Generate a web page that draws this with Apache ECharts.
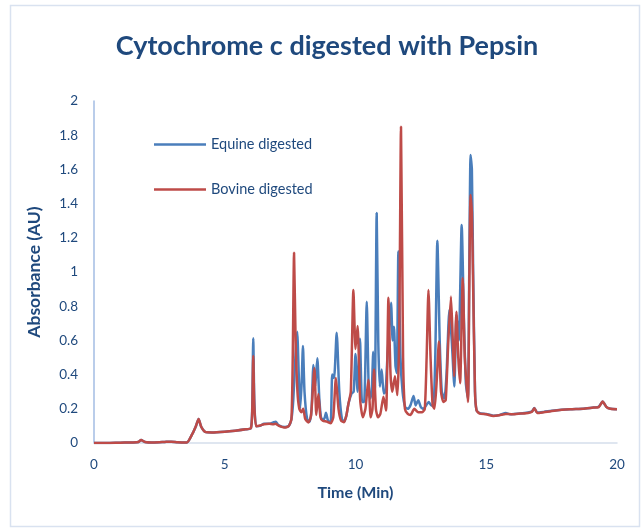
<!DOCTYPE html>
<html>
<head>
<meta charset="utf-8">
<script src="https://cdn.jsdelivr.net/npm/echarts@6.0.0/dist/echarts.min.js"></script>
<style>
    html, body { margin: 0; padding: 0; background: #ffffff; }
    #chart { width: 644px; height: 531px; }
</style>
</head>
<body>
<div id="chart"></div>
<script>
// [time (min), absorbance (AU)]
const equineDigested = [
    [0, 0], [0.5, 0], [1.0, 0.002], [1.5, 0.003], [1.7, 0.006], [1.8, 0.017], [1.95, 0.006],
    [2.3, 0.003], [2.7, 0.006], [2.95, 0.008], [3.2, 0.004], [3.55, 0.003], [3.75, 0.05],
    [3.9, 0.1], [4.0, 0.14], [4.1, 0.095], [4.25, 0.065], [4.5, 0.062], [5.0, 0.066],
    [5.4, 0.072], [5.8, 0.08], [6.0, 0.087], [6.05, 0.2], [6.09, 0.612], [6.13, 0.25],
    [6.2, 0.098], [6.35, 0.1], [6.5, 0.112], [6.7, 0.112], [6.85, 0.12], [6.95, 0.125],
    [7.05, 0.105], [7.3, 0.093], [7.45, 0.1], [7.55, 0.14], [7.62, 0.25], [7.7, 0.5],
    [7.77, 0.651], [7.83, 0.4], [7.88, 0.2], [7.94, 0.35], [7.99, 0.567], [8.05, 0.3],
    [8.15, 0.14], [8.25, 0.125], [8.32, 0.2], [8.39, 0.456], [8.46, 0.33], [8.54, 0.495],
    [8.62, 0.25], [8.7, 0.14], [8.8, 0.14], [8.87, 0.177], [8.95, 0.13], [9.05, 0.12],
    [9.11, 0.4], [9.18, 0.38], [9.28, 0.645], [9.38, 0.3], [9.48, 0.14], [9.56, 0.125],
    [9.65, 0.16], [9.73, 0.23], [9.85, 0.29], [9.93, 0.3], [10.0, 0.52], [10.08, 0.3],
    [10.17, 0.61], [10.25, 0.24], [10.33, 0.24], [10.43, 0.826], [10.5, 0.35], [10.56, 0.26],
    [10.62, 0.3], [10.68, 0.534], [10.74, 0.3], [10.81, 1.345], [10.87, 0.6], [10.93, 0.33],
    [11.0, 0.43], [11.08, 0.29], [11.15, 0.3], [11.22, 0.5], [11.3, 0.7], [11.36, 0.82],
    [11.42, 0.6], [11.47, 0.68], [11.53, 0.45], [11.58, 0.41], [11.64, 1.12], [11.72, 0.5],
    [11.8, 0.3], [11.9, 0.21], [12.0, 0.2], [12.1, 0.22], [12.22, 0.275], [12.3, 0.22],
    [12.4, 0.25], [12.5, 0.21], [12.6, 0.2], [12.7, 0.22], [12.8, 0.24], [12.9, 0.22],
    [12.98, 0.22], [13.05, 0.5], [13.13, 1.183], [13.22, 0.6], [13.3, 0.3], [13.4, 0.26],
    [13.48, 0.4], [13.59, 0.778], [13.68, 0.6], [13.78, 0.33], [13.86, 0.75], [13.95, 0.6],
    [14.06, 1.275], [14.15, 0.7], [14.22, 0.35], [14.3, 0.26], [14.35, 1.0], [14.4, 1.684],
    [14.45, 1.6], [14.5, 1.0], [14.57, 0.3], [14.63, 0.19], [14.75, 0.175], [15.0, 0.17],
    [15.27, 0.16], [15.5, 0.163], [15.75, 0.175], [15.9, 0.168], [16.3, 0.172], [16.6, 0.178],
    [16.75, 0.185], [16.84, 0.205], [16.95, 0.178], [17.2, 0.182], [17.6, 0.19], [18.2, 0.197],
    [18.7, 0.2], [19.1, 0.207], [19.3, 0.212], [19.45, 0.242], [19.6, 0.21], [19.75, 0.2],
    [20.0, 0.198]
];

const bovineDigested = [
    [0, 0], [0.5, 0], [1.0, 0.002], [1.5, 0.003], [1.7, 0.006], [1.8, 0.018], [1.95, 0.006],
    [2.3, 0.003], [2.7, 0.006], [2.95, 0.008], [3.2, 0.004], [3.55, 0.003], [3.75, 0.05],
    [3.9, 0.1], [4.0, 0.14], [4.1, 0.095], [4.25, 0.065], [4.5, 0.062], [5.0, 0.066],
    [5.4, 0.072], [5.8, 0.08], [6.0, 0.087], [6.05, 0.18], [6.09, 0.509], [6.13, 0.22],
    [6.2, 0.098], [6.35, 0.102], [6.5, 0.11], [6.7, 0.113], [6.85, 0.11], [6.95, 0.112],
    [7.05, 0.102], [7.3, 0.09], [7.45, 0.1], [7.55, 0.14], [7.6, 0.5], [7.65, 1.113],
    [7.71, 0.6], [7.78, 0.3], [7.85, 0.2], [7.93, 0.18], [8.0, 0.2], [8.08, 0.14],
    [8.2, 0.12], [8.3, 0.16], [8.43, 0.437], [8.5, 0.164], [8.58, 0.286], [8.66, 0.15],
    [8.75, 0.13], [8.9, 0.125], [9.05, 0.115], [9.15, 0.15], [9.25, 0.38], [9.35, 0.2],
    [9.45, 0.13], [9.56, 0.122], [9.65, 0.16], [9.73, 0.23], [9.82, 0.3], [9.92, 0.895],
    [10.0, 0.55], [10.08, 0.684], [10.18, 0.25], [10.28, 0.15], [10.38, 0.2], [10.49, 0.37],
    [10.58, 0.15], [10.65, 0.2], [10.71, 0.43], [10.78, 0.2], [10.86, 0.15], [10.95, 0.17],
    [11.07, 0.27], [11.17, 0.19], [11.26, 0.85], [11.34, 0.4], [11.41, 0.3], [11.51, 0.39],
    [11.6, 0.28], [11.67, 0.6], [11.74, 1.85], [11.82, 0.5], [11.89, 0.2], [12.0, 0.17],
    [12.1, 0.164], [12.25, 0.2], [12.4, 0.18], [12.55, 0.18], [12.65, 0.2], [12.72, 0.5],
    [12.79, 0.895], [12.87, 0.5], [12.95, 0.22], [13.02, 0.2], [13.1, 0.35], [13.19, 0.593],
    [13.27, 0.3], [13.36, 0.24], [13.45, 0.25], [13.55, 0.6], [13.65, 0.856], [13.72, 0.6],
    [13.77, 0.39], [13.86, 0.768], [13.93, 0.5], [14.0, 0.35], [14.1, 0.963], [14.18, 0.5],
    [14.3, 0.24], [14.35, 0.9], [14.4, 1.45], [14.45, 1.35], [14.5, 0.9], [14.57, 0.3],
    [14.63, 0.19], [14.75, 0.172], [15.0, 0.168], [15.27, 0.158], [15.5, 0.162], [15.75, 0.17],
    [16.0, 0.168], [16.3, 0.172], [16.6, 0.176], [16.75, 0.183], [16.84, 0.203], [16.95, 0.175],
    [17.2, 0.18], [17.6, 0.189], [18.2, 0.197], [18.7, 0.2], [19.1, 0.207], [19.3, 0.21],
    [19.45, 0.242], [19.6, 0.21], [19.75, 0.2], [20.0, 0.197]
];

const seriesNames = ["Equine digested", "Bovine digested"];
const seriesColors = ["#4A7EBB", "#BE4B48"];

const textColor = "#1F497D";
const fontFamily = "Lato, 'Open Sans', sans-serif";

let chart = echarts.init(document.getElementById("chart"), null, { renderer: "canvas" });

let legendFor = (name, top) => {
    return {
        data: [name],
        left: 149,
        top: top,
        icon: "rect",
        itemWidth: 52,
        itemHeight: 2.5,
        itemGap: 6,
        textStyle: {
            color: textColor,
            fontSize: 14.5,
            fontFamily: fontFamily,
        },
    };
};

chart.setOption({
    animation: false,
    backgroundColor: "#ffffff",
    graphic: [
        {
            type: "rect",
            shape: { x: 10.5, y: 5.5, width: 629, height: 521 },
            style: { fill: "none", stroke: "#D9E2F0", lineWidth: 1.5 },
            silent: true,
        },
    ],
    title: {
        text: "Cytochrome c digested with Pepsin",
        left: 322,
        textAlign: "center",
        top: 28,
        textStyle: {
            color: textColor,
            fontSize: 27,
            fontWeight: "bold",
            fontFamily: fontFamily,
        },
    },
    legend: [
        legendFor(seriesNames[0], 132),
        legendFor(seriesNames[1], 177),
    ],
    grid: {
        left: 94,
        right: 27,
        top: 101,
        bottom: 88,
    },
    xAxis: {
        type: "value",
        min: 0,
        max: 20,
        interval: 5,
        name: "Time (Min)",
        nameLocation: "middle",
        nameGap: 42,
        nameTextStyle: {
            color: textColor,
            fontSize: 16,
            fontWeight: "bold",
            fontFamily: fontFamily,
        },
        axisLine: { lineStyle: { color: "#D5DEEC", width: 1.5 } },
        axisTick: { show: false },
        splitLine: { show: false },
        axisLabel: {
            color: textColor,
            fontSize: 13.5,
            fontFamily: fontFamily,
            margin: 15,
        },
    },
    yAxis: {
        type: "value",
        min: 0,
        max: 2,
        interval: 0.2,
        name: "Absorbance (AU)",
        nameLocation: "middle",
        nameGap: 51,
        nameTextStyle: {
            color: textColor,
            fontSize: 17.5,
            fontWeight: "bold",
            fontFamily: fontFamily,
        },
        axisLine: { show: true, lineStyle: { color: "#A3BDE3", width: 1.5 } },
        axisTick: { show: false },
        splitLine: { show: false },
        axisLabel: {
            color: textColor,
            fontSize: 13.5,
            fontFamily: fontFamily,
            margin: 16,
            formatter: (value) => { return Number(value.toFixed(1)).toString(); },
        },
    },
    series: [
        {
            name: seriesNames[0],
            type: "line",
            data: equineDigested,
            showSymbol: false,
            smooth: 0.2,
            lineStyle: { color: seriesColors[0], width: 2.5 },
            itemStyle: { color: seriesColors[0] },
        },
        {
            name: seriesNames[1],
            type: "line",
            data: bovineDigested,
            showSymbol: false,
            smooth: 0.2,
            lineStyle: { color: seriesColors[1], width: 2.5 },
            itemStyle: { color: seriesColors[1] },
        },
    ],
});
</script>
</body>
</html>
